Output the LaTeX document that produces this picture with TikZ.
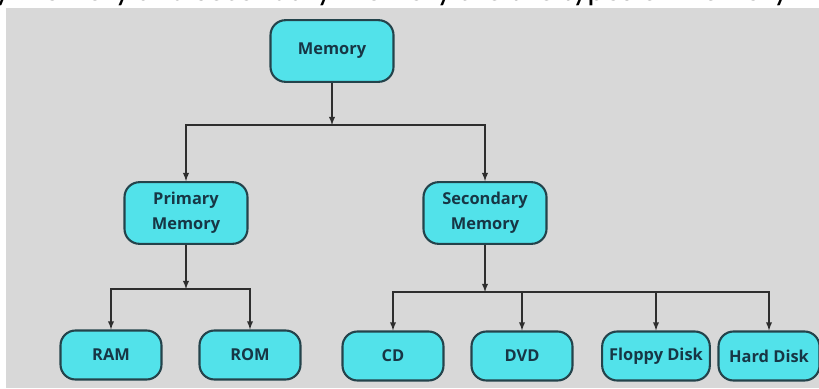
\documentclass[tikz,border=0pt]{standalone}
\usepackage{fontspec}
\setmainfont{Open Sans}
\newfontfamily\captionfont{Carlito}
\usetikzlibrary{positioning}
\definecolor{boxfill}{HTML}{52E2EA}
\definecolor{boxline}{HTML}{24434B}
\definecolor{boxtext}{HTML}{173645}
\definecolor{bggrey}{HTML}{D8D8D8}
\definecolor{wire}{HTML}{2E2E2E}

\begin{document}
\begin{tikzpicture}[x = 0.03cm, y = -0.03cm, >=latex, line width = 1.4pt, draw = wire]
    \tikzstyle{block} = [draw = boxline, fill = boxfill, line width = 1.8pt, rounded corners = 0.45cm, align = center, text = boxtext, font = \bfseries\fontsize{14}{21}\selectfont, inner xsep = 0.21cm]
    \tikzstyle{big} = [minimum width = 3.69cm, minimum height = 1.85cm]
    \tikzstyle{leaf} = [minimum width = 3.03cm, minimum height = 1.47cm]

    \useasboundingbox (0,0) rectangle (819,388);
    \fill[white] (0,0) rectangle (819,388);
    \fill[bggrey] (6,8) rectangle (819,388);
    \begin{scope}
        \clip (0,0) rectangle (819,8);
        \node[anchor = base west, inner sep = 0, font = \captionfont\fontsize{28}{30}\selectfont] (caption) at (-95,0) {Primary memory and secondary memory are the types of memory};
    \end{scope}

    \node[block, big] (memory) at (332,51) {Memory};
    \node[block, big] (primary) at (186,213) {Primary\\Memory};
    \node[block, big] (secondary) at (485,213) {Secondary\\Memory};

    \node[block, leaf] (ram) at (111,355) {RAM};
    \node[block, leaf] (rom) at (250,355) {ROM};
    \node[block, leaf] (cd) at (393,356) {CD};
    \node[block, leaf] (dvd) at (522,356) {DVD};
    \node[block, leaf] (floppy) at (656,356) {Floppy Disk};
    \node[block, leaf] (hard) at (769,356) {Hard Disk};

    \coordinate (split) at (332,125);
    \coordinate (splitp) at (186,289);
    \coordinate (splits) at (485,292);

    \draw[->] (memory) -- (split);
    \draw[->] (split) -| (primary);
    \draw[->] (split) -| (secondary);

    \draw[->] (primary) -- (splitp);
    \draw[->] (splitp) -| (ram);
    \draw[->] (splitp) -| (rom);

    \draw[->] (secondary) -- (splits);
    \draw[->] (splits) -| (cd);
    \draw[->] (splits) -| (dvd);
    \draw[->] (splits) -| (floppy);
    \draw[->] (splits) -| (hard);
\end{tikzpicture}
\end{document}
